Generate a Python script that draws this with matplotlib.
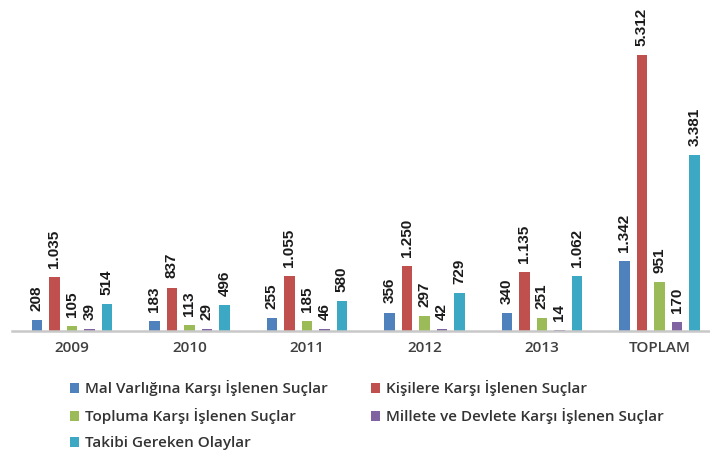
import matplotlib
matplotlib.use("Agg")
import matplotlib.pyplot as plt
from matplotlib.patches import Patch
import numpy as np

# Suç istatistikleri (yıllara göre)
groups = ["2009", "2010", "2011", "2012", "2013", "TOPLAM"]
series_names = [
    "Mal Varlığına Karşı İşlenen Suçlar",
    "Kişilere Karşı İşlenen Suçlar",
    "Topluma Karşı İşlenen Suçlar",
    "Millete ve Devlete Karşı İşlenen Suçlar",
    "Takibi Gereken Olaylar",
]
mal_varligi = [208, 183, 255, 356, 340, 1342]
kisilere = [1035, 837, 1055, 1250, 1135, 5312]
topluma = [105, 113, 185, 297, 251, 951]
millete_devlete = [39, 29, 46, 42, 14, 170]
takibi_gereken = [514, 496, 580, 729, 1062, 3381]

series_values = [mal_varligi, kisilere, topluma, millete_devlete, takibi_gereken]
colors = ["#4F81BD", "#C0504D", "#9BBB59", "#8064A2", "#3CA8C4"]

W, H = 710, 458
fig = plt.figure(figsize=(W / 100, H / 100), dpi=100)
ax = fig.add_axes([12 / W, (H - 331) / H, 1 - 12 / W, 331 / H])

x = np.arange(len(groups))
step = 0.149
width = 0.092


def fmt(v):
    return f"{v:,}".replace(",", ".")


for i, (vals, col) in enumerate(zip(series_values, colors)):
    pos = x + (i - 2) * step
    bars = ax.bar(pos, vals, width=width, color=col, zorder=2)
    for b, v in zip(bars, vals):
        ax.annotate(fmt(v), (b.get_x() + b.get_width() / 2, v),
                    xytext=(0, 6.5), textcoords="offset points",
                    rotation=90, ha="center", va="bottom",
                    fontsize=11, fontweight="bold", color="#1a1a1a",
                    family=["Liberation Sans", "DejaVu Sans"],
                    bbox=dict(boxstyle="square,pad=0.1", fc="white", ec="none"))

ax.set_xlim(-0.51, 5.43)
ax.set_ylim(0, 6370)
ax.set_xticks(x)
ax.set_xticklabels(groups, fontsize=11, color="#404040",
                   family=["Open Sans", "DejaVu Sans"], fontweight="semibold")
ax.tick_params(axis="x", length=0, pad=7)
ax.set_yticks([])
for s in ["left", "right", "top"]:
    ax.spines[s].set_visible(False)
ax.spines["bottom"].set_color("#c8c8c8")
ax.spines["bottom"].set_linewidth(1.8)
ax.patch.set_alpha(0)

handles = [Patch(facecolor=c, edgecolor="none") for c in colors]
leg_kw = dict(frameon=False, handlelength=0.6, handleheight=0.6,
              handletextpad=0.4, labelspacing=0.78, borderaxespad=0,
              prop={"family": ["Open Sans", "DejaVu Sans"], "size": 11,
                    "weight": "semibold"},
              labelcolor="#333333", loc="upper left")

leg1 = fig.legend([handles[0], handles[2], handles[4]],
                  [series_names[0], series_names[2], series_names[4]],
                  bbox_to_anchor=(64 / W, 1 - 374 / H), **leg_kw)
leg2 = fig.legend([handles[1], handles[3]],
                  [series_names[1], series_names[3]],
                  bbox_to_anchor=(365 / W, 1 - 374 / H), **leg_kw)

fig.savefig("out.png", dpi=100)
